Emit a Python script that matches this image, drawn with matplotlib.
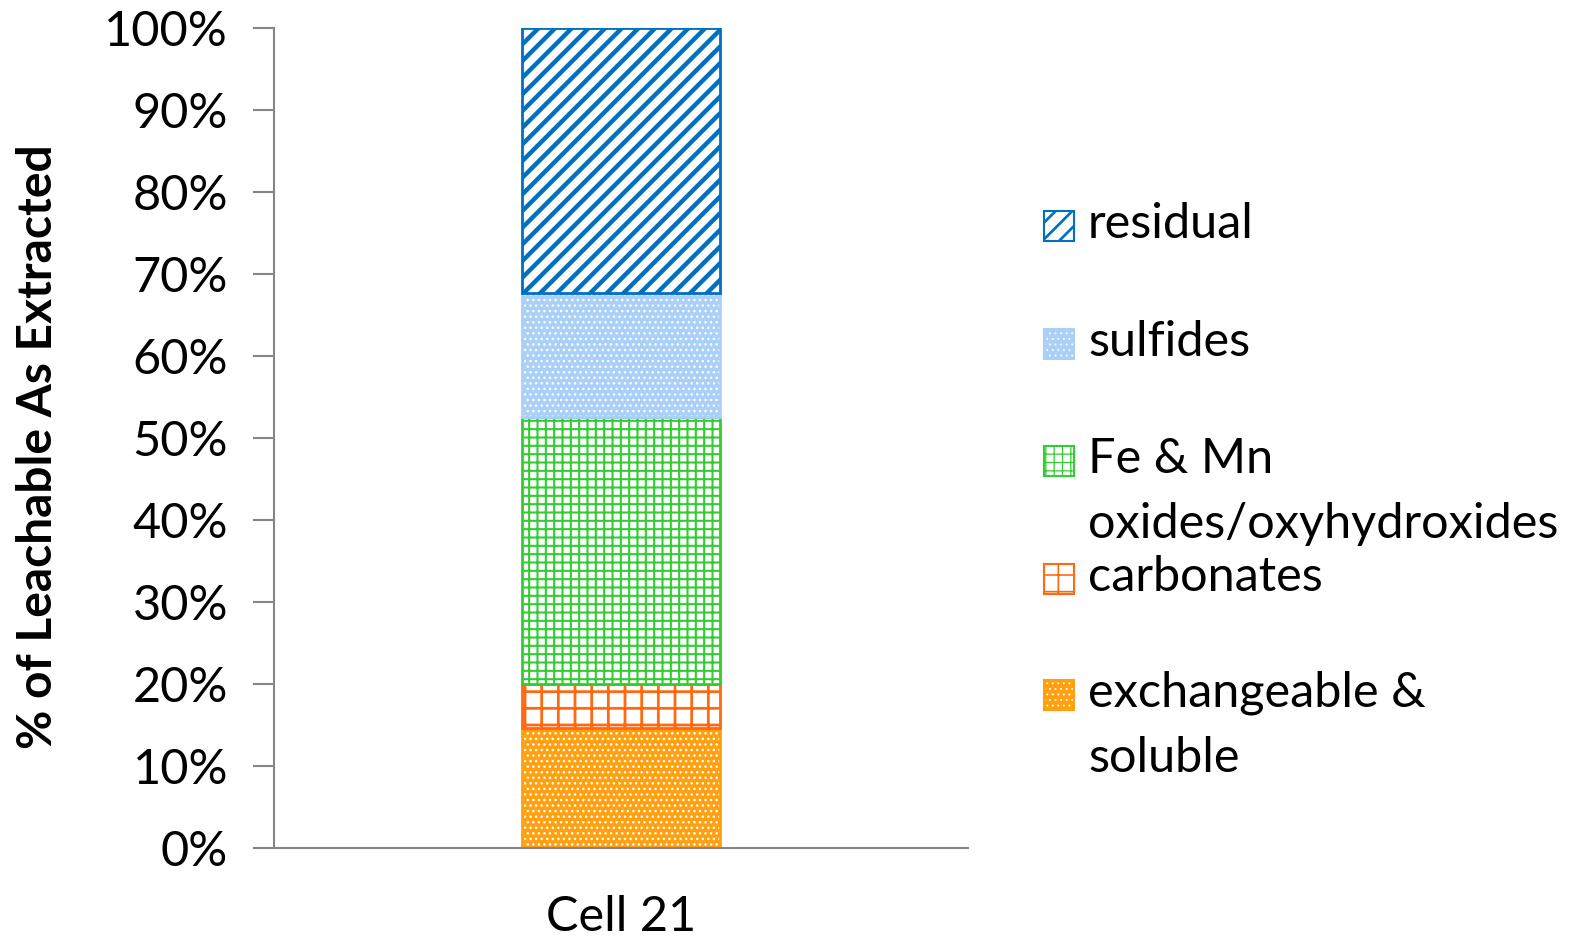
import numpy as np
import matplotlib
matplotlib.use('Agg')
import matplotlib.pyplot as plt
from matplotlib.patches import Rectangle
from matplotlib.ticker import FuncFormatter

plt.rcParams['font.family'] = ['Lato', 'DejaVu Sans']

category = ['Cell 21']
fractions = ['exchangeable &\nsoluble', 'carbonates',
             'Fe & Mn\noxides/oxyhydroxides', 'sulfides', 'residual']
values = [14.6, 5.4, 32.6, 15.1, 32.3]

# face, hatch colour, hatch, outline, hatch width
styles = [
    ('#ffa010', 'white', '...', '#ffa010', 1.0),
    ('white', '#ff6a10', '+', '#ff6a10', 2.0),
    ('white', '#33cc33', '++', '#33cc33', 1.5),
    ('#aad0f8', 'white', '...', '#aad0f8', 1.0),
    ('white', '#0070c0', '//', '#0070c0', 3.2),
]

W, H = 1575, 942
fig = plt.figure(figsize=(15.75, 9.42), dpi=100)
ax = fig.add_axes([274 / W, 1 - 848 / H, 694 / W, 820 / H])

x = np.arange(len(category))
bottom = np.zeros(len(category))
for v, (fc, hc, hatch, ec, hw) in zip(values, styles):
    with plt.rc_context({'hatch.linewidth': hw, 'hatch.color': hc}):
        bars = ax.bar(x, [v], 0.285, bottom=bottom, color=fc,
                      edgecolor=hc, hatch=hatch, linewidth=0)
    for b in bars:
        if hasattr(b, 'set_hatch_linewidth'):
            b.set_hatch_linewidth(hw)
    ax.bar(x, [v], 0.285, bottom=bottom, fill=False, edgecolor=ec, linewidth=2)
    bottom += v

ax.set_xlim(-0.5, 0.5)
ax.set_ylim(0, 100)
ax.set_yticks(np.arange(0, 101, 10))
ax.yaxis.set_major_formatter(FuncFormatter(lambda v, p: '%d%%' % v))
ax.set_xticks(x)
ax.set_xticklabels(category)
for s in ['top', 'right']:
    ax.spines[s].set_visible(False)
for s in ['left', 'bottom']:
    ax.spines[s].set_color('#868686')
    ax.spines[s].set_linewidth(1.5)
ax.tick_params(axis='y', length=15, width=1.5, color='#868686',
               labelsize=35, pad=18)
ax.tick_params(axis='x', length=0, labelsize=35, pad=34)
ax.set_ylabel('% of Leachable As Extracted', fontsize=34.5,
              fontweight='bold')
ax.yaxis.set_label_coords(-(274 - 60) / 694, 0.49)

# legend drawn by hand, Excel style
order = [4, 3, 2, 1, 0]
ys = [224, 342, 459, 577, 693]
for i, yy in zip(order, ys):
    fc, hc, hatch, ec, hw = styles[i]
    yf = 1 - yy / H
    with plt.rc_context({'hatch.linewidth': hw * 0.6, 'hatch.color': hc}):
        r = Rectangle((1044 / W, yf - 17 / H), 30 / W, 30 / H,
                      transform=fig.transFigure, facecolor=fc, edgecolor=hc,
                      hatch=hatch, linewidth=0)
    if hasattr(r, 'set_hatch_linewidth'):
        r.set_hatch_linewidth(hw * 0.6)
    fig.add_artist(r)
    fig.add_artist(Rectangle((1044 / W, yf - 17 / H), 30 / W, 30 / H,
                             transform=fig.transFigure, fill=False,
                             edgecolor=ec, linewidth=1.5))
    for k, line in enumerate(fractions[i].split('\n')):
        fig.text(1088 / W, yf - k * 65 / H, line, fontsize=35,
                 va='center', ha='left')

fig.savefig('out.png', dpi=100)
